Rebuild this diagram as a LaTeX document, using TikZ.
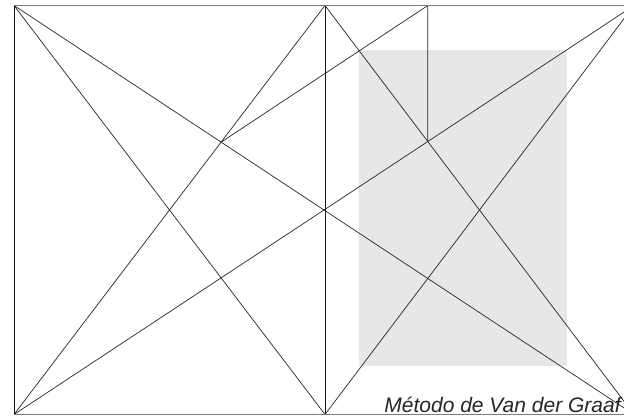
\documentclass[tikz,border=0pt]{standalone}
\usepackage{fontspec}
\newfontfamily\graaffont{Liberation Sans}
\definecolor{blockgray}{HTML}{E6E7E8}
\definecolor{rulegray}{HTML}{7A7A7A}

\begin{document}
\begin{tikzpicture}[x=1pt,y=-1pt,line width=0.7pt]
        \useasboundingbox (0,0) rectangle (624,417);
        \clip (0,0) rectangle (624,417);
        % corners of the spread and the spine
        \coordinate (tl) at (14,5.5);
        \coordinate (bl) at (14,414.5);
        \coordinate (ts) at (325,5.5);
        \coordinate (bs) at (325,414.5);
        \coordinate (tr) at (634,5.5);
        \coordinate (br) at (634,414.5);
        % text block
        \fill[blockgray] (359,50.5) rectangle (566.5,366);
        % diagonals
        \draw[black!85] (tl) -- (br);
        \draw[black!85] (tl) -- (bs);
        \draw[black!85] (bl) -- (ts);
        \draw[black!85] (bl) -- (tr);
        \draw[black!85] (ts) -- (br);
        \draw[black!85] (tr) -- (bs);
        % construction lines
        \coordinate (lx) at (intersection of tl--br and ts--bl);
        \coordinate (rx) at (intersection of ts--br and bl--tr);
        \coordinate (rtop) at (rx |- tl);
        \draw[black!85] (rx) -- (rtop) -- (lx);
        % spine and borders
        \draw[black!90,line width=0.9pt] (ts) -- (bs);
        \draw[black!90] (tl) -- (bl);
        \draw[rulegray,line width=1.8pt] (tl) -- (tr);
        \draw[rulegray,line width=1.8pt] (bl) -- (br);
        \node[anchor=base east,inner sep=0pt,text=black!85,font=\graaffont\itshape\fontsize{21}{21}\selectfont] (title) at (621,412) {Método de Van der Graaf};
\end{tikzpicture}
\end{document}
